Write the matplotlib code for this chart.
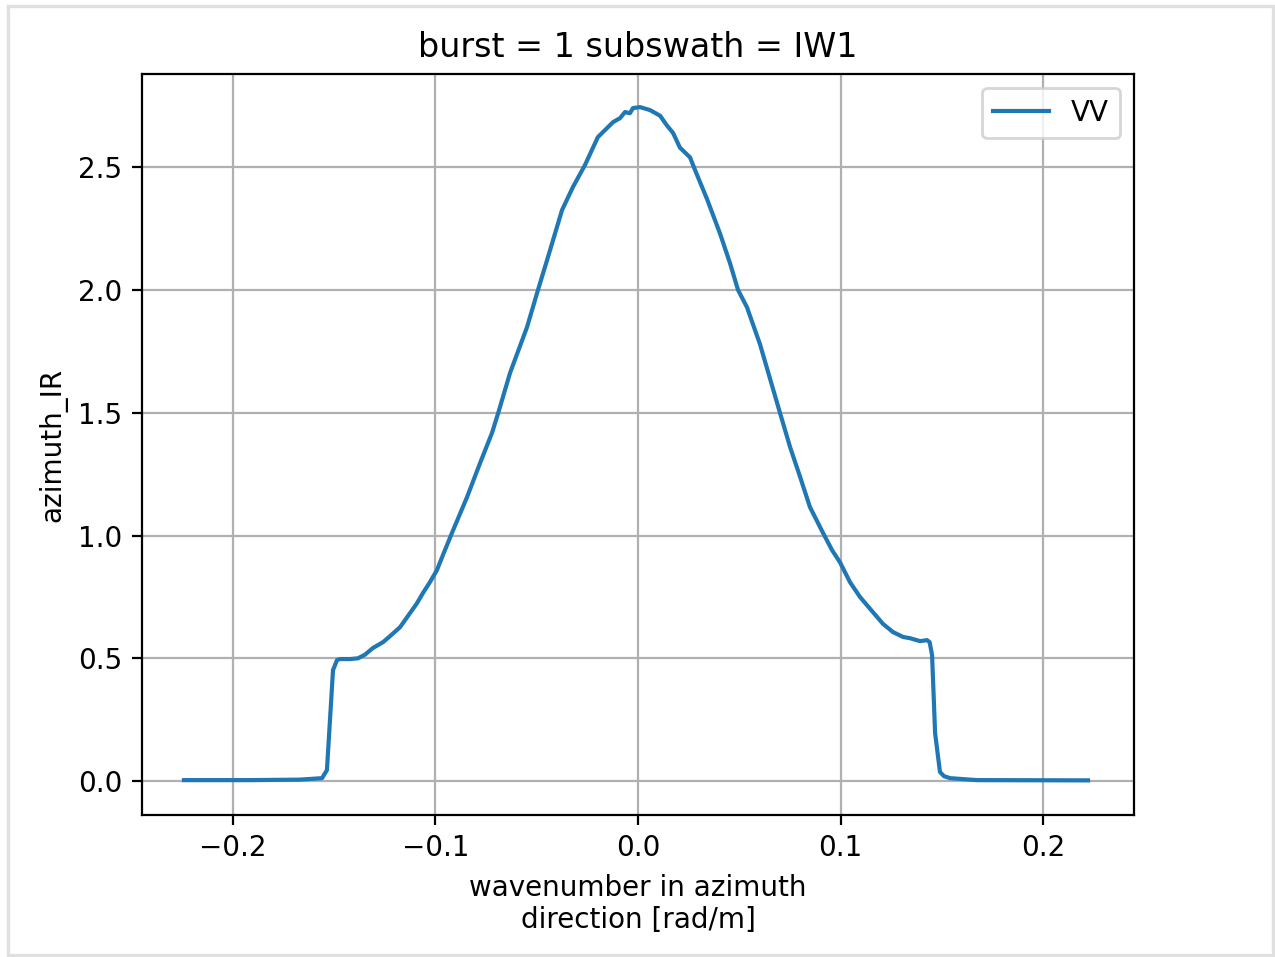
import numpy as np
import matplotlib
matplotlib.use('Agg')
import matplotlib.pyplot as plt
from matplotlib.patches import Rectangle

# Valores
k_az = [-0.2242, -0.1916, -0.1669, -0.1560, -0.1536, -0.1506, -0.1486, -0.1472,
        -0.1422, -0.1383, -0.1348, -0.1309, -0.1259, -0.1225, -0.1175, -0.1126,
        -0.1091, -0.1062, -0.1027, -0.0993, -0.0963, -0.0919, -0.0844, -0.0780,
        -0.0721, -0.0690, -0.0632, -0.0548, -0.0494, -0.0449, -0.0375, -0.0321,
        -0.0262, -0.0198, -0.0123, -0.0089, -0.0064, -0.0040, -0.0025, 0.0010,
        0.0059, 0.0109, 0.0143, 0.0173, 0.0207, 0.0257, 0.0281, 0.0341,
        0.0405, 0.0454, 0.0494, 0.0538, 0.0602, 0.0701, 0.0751, 0.0800,
        0.0849, 0.0914, 0.0958, 0.0998, 0.1047, 0.1096, 0.1160, 0.1210,
        0.1259, 0.1309, 0.1343, 0.1393, 0.1427, 0.1440, 0.1452, 0.1467,
        0.1491, 0.1511, 0.1541, 0.1674, 0.2222]
az_ir = [0.004, 0.004, 0.006, 0.012, 0.045, 0.452, 0.493, 0.497,
         0.497, 0.500, 0.515, 0.542, 0.566, 0.590, 0.627, 0.684,
         0.725, 0.766, 0.811, 0.859, 0.921, 1.010, 1.157, 1.295,
         1.418, 1.500, 1.662, 1.849, 2.000, 2.122, 2.326, 2.420,
         2.509, 2.623, 2.684, 2.700, 2.725, 2.720, 2.741, 2.745,
         2.733, 2.710, 2.670, 2.640, 2.580, 2.540, 2.490, 2.370,
         2.230, 2.110, 2.000, 1.930, 1.780, 1.500, 1.360, 1.240,
         1.116, 1.010, 0.941, 0.890, 0.810, 0.750, 0.688, 0.640,
         0.607, 0.587, 0.582, 0.570, 0.574, 0.566, 0.513, 0.195,
         0.037, 0.020, 0.012, 0.004, 0.003]

fig = plt.figure(figsize=(6.375, 4.785), dpi=200)
ax = fig.add_axes([0.1114, 0.1484, 0.778, 0.7743])

ax.plot(k_az, az_ir, label='VV')
ax.set_xlim(-0.2449, 0.2449)
ax.set_ylim(-0.138, 2.88)
ax.grid(True)
ax.legend(loc='upper right')
ax.set_title('burst = 1 subswath = IW1')
ax.set_xlabel('wavenumber in azimuth\ndirection [rad/m]')
ax.set_ylabel('azimuth_IR')

# moldura clara em volta
fig.patches.append(Rectangle((8 / 1275, 2 / 957), 1265 / 1275, 949 / 957,
                             transform=fig.transFigure, fill=False,
                             edgecolor='#e0e0e0', linewidth=1.2))

fig.savefig('out.png', dpi=200)
